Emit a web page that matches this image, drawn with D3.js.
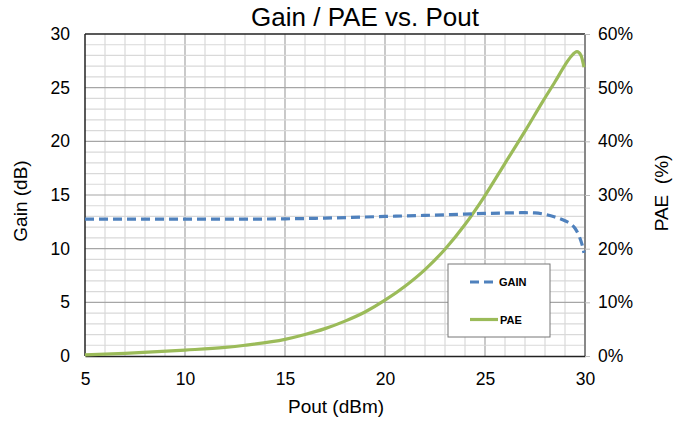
<!DOCTYPE html>
<html><head><meta charset="utf-8">
<script src="https://cdn.jsdelivr.net/npm/d3@7"></script>
<style>body{margin:0;background:#fff}svg{font-family:"Liberation Sans",Arial,sans-serif}</style>
</head><body><svg id="c" width="681" height="421"></svg>
<script>
const gainPout = [5,8,10,12,15,17,19,20,22,24,25,26,27,27.5,28,28.5,29,29.25,29.5,29.7,29.85,29.95];
const gainDb   = [12.75,12.75,12.75,12.75,12.78,12.85,12.95,13.0,13.1,13.22,13.28,13.33,13.35,13.33,13.2,12.95,12.6,12.35,11.9,11.2,10.4,9.6];
const paePout  = [5,7,10,12,13,15,16,17,18,19,20,21,22,23,24,25,26,27,27.9,28.5,29,29.3,29.6,29.8,29.95];
const paePct   = [0.2,0.5,1.1,1.6,2.0,3.1,4.0,5.1,6.5,8.2,10.4,13.0,16.1,19.9,24.5,29.9,35.9,41.9,47.5,51.1,54.2,55.8,56.7,56.0,53.8];
const xTicks = [5,10,15,20,25,30];
const yTicks = [0,5,10,15,20,25,30];
const y2Ticks = [0,10,20,30,40,50,60];
const seriesNames = ["GAIN","PAE"];

const svg = d3.select("#c");
const L=85,R=585,T=34,B=356;
const x = d3.scaleLinear().domain([5,30]).range([L,R]);
const y = d3.scaleLinear().domain([0,30]).range([B,T]);
const y2 = d3.scaleLinear().domain([0,60]).range([B,T]);

// grid
const g = svg.append("g");
d3.range(6,30,1).forEach(v=>{
  g.append("line").attr("x1",x(v)).attr("x2",x(v)).attr("y1",T).attr("y2",B)
   .attr("stroke", v%5===0?"#a6a6a6":"#d9d9d9").attr("stroke-width",1.2);
});
d3.range(1,30,1).forEach(v=>{
  g.append("line").attr("x1",L).attr("x2",R).attr("y1",y(v)).attr("y2",y(v))
   .attr("stroke", v%5===0?"#a6a6a6":"#d9d9d9").attr("stroke-width",1.2);
});
// borders
svg.append("line").attr("x1",L).attr("x2",R).attr("y1",T).attr("y2",T).attr("stroke","#222").attr("stroke-width",1.5);
svg.append("line").attr("x1",L).attr("x2",L).attr("y1",T).attr("y2",B).attr("stroke","#222").attr("stroke-width",1.5);
svg.append("line").attr("x1",R).attr("x2",R).attr("y1",T).attr("y2",B).attr("stroke","#888").attr("stroke-width",2);

const tickFont = 17.5;
// axes
const ax = svg.append("g").attr("transform",`translate(0,${B})`)
  .call(d3.axisBottom(x).tickValues(xTicks).tickSize(0).tickPadding(17));
ax.select(".domain").attr("stroke","#222").attr("stroke-width",1.5);
ax.selectAll("text").attr("font-size",tickFont).attr("fill","#000").attr("font-family","Liberation Sans, Arial");

const ayl = svg.append("g").attr("transform",`translate(${L},0)`)
  .call(d3.axisLeft(y).tickValues(yTicks).tickSize(0).tickPadding(15));
ayl.select(".domain").remove();
ayl.selectAll("text").attr("font-size",tickFont).attr("fill","#000").attr("font-family","Liberation Sans, Arial");

const ayr = svg.append("g").attr("transform",`translate(${R},0)`)
  .call(d3.axisRight(y2).tickValues(y2Ticks).tickSize(5).tickPadding(8).tickFormat(d=>d+"%"));
ayr.select(".domain").remove();
ayr.selectAll("line").attr("stroke","#bbb");
ayr.selectAll("text").attr("font-size",tickFont).attr("fill","#000").attr("font-family","Liberation Sans, Arial");

// lines
const gainData = gainPout.map((p,i)=>[p,gainDb[i]]);
const paeData = paePout.map((p,i)=>[p,paePct[i]]);
svg.append("path").datum(paeData).attr("fill","none").attr("stroke","#9bbb59").attr("stroke-width",3.2)
  .attr("d", d3.line().x(d=>x(d[0])).y(d=>y2(d[1])).curve(d3.curveMonotoneX));
svg.append("path").datum(gainData).attr("fill","none").attr("stroke","#4f81bd").attr("stroke-width",3.2)
  .attr("stroke-dasharray","9,5")
  .attr("d", d3.line().x(d=>x(d[0])).y(d=>y(d[1])).curve(d3.curveMonotoneX));

// legend
const lg = svg.append("g");
lg.append("rect").attr("x",448).attr("y",264).attr("width",102).attr("height",73)
  .attr("fill","#fff").attr("stroke","#777").attr("stroke-width",1);
lg.append("line").attr("x1",470).attr("x2",494).attr("y1",282).attr("y2",282)
  .attr("stroke","#4f81bd").attr("stroke-width",3.2).attr("stroke-dasharray","9,5");
lg.append("line").attr("x1",470).attr("x2",498).attr("y1",319.5).attr("y2",319.5)
  .attr("stroke","#9bbb59").attr("stroke-width",3.2);
lg.append("text").attr("x",499).attr("y",286).attr("font-size",11).attr("font-weight","bold").text(seriesNames[0]);
lg.append("text").attr("x",500).attr("y",323.5).attr("font-size",11).attr("font-weight","bold").text(seriesNames[1]);

// titles
svg.append("text").attr("x",365).attr("y",26).attr("text-anchor","middle").attr("font-size",26).text("Gain / PAE vs. Pout");
svg.append("text").attr("x",336).attr("y",413).attr("text-anchor","middle").attr("font-size",19).text("Pout (dBm)");
svg.append("text").attr("transform","translate(27,201) rotate(-90)").attr("text-anchor","middle").attr("font-size",19).text("Gain (dB)");
svg.append("text").attr("transform","translate(668,193) rotate(-90)").attr("text-anchor","middle").attr("font-size",19)
  .style("white-space","pre").text("PAE  (%)");
</script></body></html>
